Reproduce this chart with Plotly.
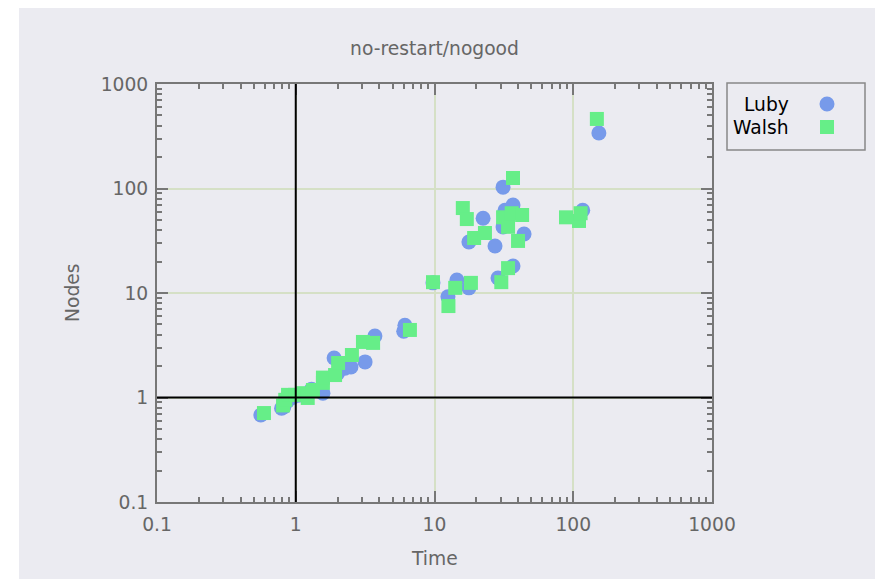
import plotly.graph_objects as go

title_text = "no-restart/nogood"
x_label = "Time"
y_label = "Nodes"
tick_vals = [0.1, 1, 10, 100, 1000]
tick_text = ["0.1", "1", "10", "100", "1000"]
minor_vals = [m * d for d in [0.1, 1, 10, 100] for m in range(2, 10)]

luby_time = [0.56, 0.79, 0.82, 0.87, 0.95, 1.05, 1.3, 1.57, 1.89, 2.0, 2.26, 2.5, 3.16, 3.72,
             6.0, 6.12, 9.75, 12.5, 14.5, 17.7, 17.7, 22.4, 27.3, 28.7, 31.2, 31.2, 32.2,
             36.8, 36.8, 44.2, 117, 153]
luby_nodes = [0.68, 0.79, 0.81, 0.92, 1.0, 1.05, 1.2, 1.10, 2.39, 1.7, 1.91, 1.96, 2.19, 3.88,
              4.3, 4.9, 12.5, 9.2, 13.3, 11.2, 30.8, 52, 28.2, 13.9, 103, 42.9, 62,
              69.5, 18.1, 36.7, 62, 340]

walsh_time = [0.59, 0.81, 0.84, 0.88, 0.99, 1.11, 1.22, 1.33, 1.57, 1.57, 1.92, 2.02, 2.54,
              3.05, 3.61, 6.65, 9.75, 12.6, 14.1, 16.0, 17.1, 18.3, 19.3, 23.1, 30.3, 31.2,
              33.9, 33.9, 36, 36.8, 40, 42.8, 88.7, 110, 113, 148]
walsh_nodes = [0.71, 0.84, 0.95, 1.06, 1.06, 1.10, 0.99, 1.18, 1.38, 1.55, 1.64, 2.14, 2.55,
               3.40, 3.33, 4.43, 12.7, 7.5, 11.2, 65, 51, 12.5, 33.6, 37.5, 12.7, 53,
               43, 17.3, 58, 126, 31.5, 55.8, 53, 48.9, 58, 463]

series_names = ["Luby", "Walsh"]
BLUE = "#779aea"
GREEN = "#66ee88"
BG = "#ebebf1"
AX = "#777777"
FONT = "DejaVu Sans"
FS = 18.7

fig = go.Figure()
fig.add_trace(go.Scatter(x=luby_time, y=luby_nodes, mode="markers", name=series_names[0],
                         marker=dict(symbol="circle", size=15, color=BLUE, line=dict(width=0))))
fig.add_trace(go.Scatter(x=walsh_time, y=walsh_nodes, mode="markers", name=series_names[1],
                         marker=dict(symbol="square", size=14, color=GREEN, line=dict(width=0))))

axis_common = dict(
    type="log", tickmode="array", tickvals=tick_vals, ticktext=tick_text,
    showline=True, linecolor=AX, linewidth=2, mirror="ticks",
    ticks="inside", ticklen=11, tickwidth=1.5, tickcolor=AX,
    showgrid=True, gridcolor="#d5e0c6", gridwidth=1.5,
    zeroline=False,
    tickfont=dict(family=FONT, size=FS, color="#666666"),
    minor=dict(tickmode="array", tickvals=minor_vals, ticks="inside", ticklen=5,
               tickwidth=1.5, tickcolor=AX, showgrid=False),
)
fig.update_xaxes(range=[-1, 3], ticklabelstandoff=5, **axis_common)
fig.update_yaxes(range=[-1, 3], ticklabelstandoff=3, **axis_common)

PL, PT, PW, PH = 149, 76, 555, 418

def px(xp):
    return (xp - PL) / PW

def py(yp):
    return (PT + PH - yp) / PH

shapes = [
    # white page strip on the left
    dict(type="rect", xref="paper", yref="paper", x0=-0.5, x1=px(11), y0=-0.5, y1=1.5,
         fillcolor="white", line=dict(width=0), layer="below"),
    # reference lines at 1
    dict(type="line", xref="x domain", yref="y domain", x0=0.25, x1=0.25, y0=0, y1=1,
         line=dict(color="black", width=2)),
    dict(type="line", xref="x domain", yref="y domain", x0=0, x1=1, y0=0.25, y1=0.25,
         line=dict(color="black", width=2)),
    # legend box
    dict(type="rect", xref="paper", yref="paper", x0=px(719), x1=px(857),
         y0=py(142), y1=py(75), line=dict(color="#888888", width=1.5), fillcolor=BG),
    dict(type="circle", xref="paper", yref="paper", xsizemode="pixel", ysizemode="pixel",
         xanchor=px(819), yanchor=py(96), x0=-7.5, x1=7.5, y0=-7.5, y1=7.5,
         fillcolor=BLUE, line=dict(width=0)),
    dict(type="rect", xref="paper", yref="paper", xsizemode="pixel", ysizemode="pixel",
         xanchor=px(819), yanchor=py(119), x0=-7, x1=7, y0=-7, y1=7,
         fillcolor=GREEN, line=dict(width=0)),
]

annotations = [
    dict(text=x_label, xref="paper", yref="paper", x=0.5, y=0, yshift=-56, showarrow=False,
         xanchor="center", yanchor="middle", font=dict(family=FONT, size=FS, color="#666666")),
    dict(text=y_label, xref="paper", yref="paper", x=px(64), y=0.5, showarrow=False,
         textangle=-90, xanchor="center", yanchor="middle",
         font=dict(family=FONT, size=FS, color="#666666")),
    dict(text=series_names[0], xref="paper", yref="paper", x=px(783),
         y=py(96), showarrow=False, xanchor="right", yanchor="middle",
         font=dict(family=FONT, size=FS, color="black")),
    dict(text=series_names[1], xref="paper", yref="paper", x=px(783),
         y=py(119), showarrow=False, xanchor="right", yanchor="middle",
         font=dict(family=FONT, size=FS, color="black")),
]

fig.update_layout(
    width=883, height=579,
    margin=dict(l=PL, r=883 - PL - PW, t=PT, b=579 - PT - PH),
    paper_bgcolor=BG, plot_bgcolor=BG,
    showlegend=False,
    title=dict(text=title_text, x=426.5 / 883, xanchor="center", y=1 - 40 / 579,
               yanchor="middle", font=dict(family=FONT, size=FS, color="#666666")),
    shapes=shapes, annotations=annotations,
    font=dict(family=FONT),
)

fig.write_html("out.html", post_script="document.body.style.overflow='hidden';")
